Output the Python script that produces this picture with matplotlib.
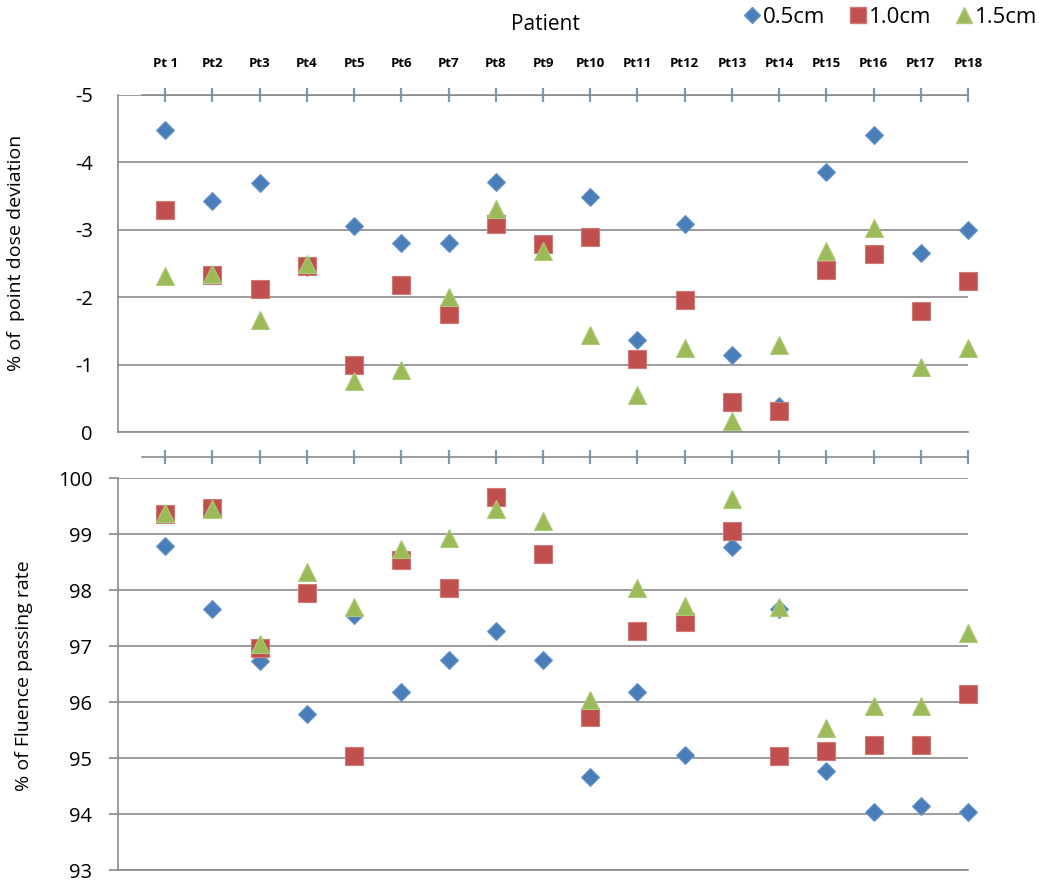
import numpy
import matplotlib
matplotlib.use('Agg')
import matplotlib.pyplot as plt
from matplotlib.lines import Line2D

plt.rcParams['font.family'] = ['Open Sans', 'DejaVu Sans']

patients = ['Pt 1', 'Pt2', 'Pt3', 'Pt4', 'Pt5', 'Pt6', 'Pt7', 'Pt8', 'Pt9',
            'Pt10', 'Pt11', 'Pt12', 'Pt13', 'Pt14', 'Pt15', 'Pt16', 'Pt17', 'Pt18']
series_names = ['0.5cm', '1.0cm', '1.5cm']

# % of point dose deviation
dev_05 = [-4.48, -3.43, -3.69, -2.45, -3.06, -2.80, -2.80, -3.71, -2.70,
          -3.49, -1.37, -3.09, -1.14, -0.38, -3.86, -4.40, -2.66, -3.00]
dev_10 = [-3.29, -2.33, -2.12, -2.47, -1.00, -2.18, -1.75, -3.08, -2.79,
          -2.90, -1.08, -1.96, -0.45, -0.31, -2.41, -2.64, -1.79, -2.24]
dev_15 = [-2.31, -2.34, -1.66, -2.49, -0.75, -0.92, -2.00, -3.31, -2.68,
          -1.44, -0.55, -1.24, -0.17, -1.29, -2.68, -3.02, -0.96, -1.24]

# % of fluence passing rate
pass_05 = [98.78, 97.66, 96.74, 95.78, 97.56, 96.17, 96.75, 97.26, 96.75,
           94.66, 96.17, 95.05, 98.77, 97.66, 94.76, 94.04, 94.15, 94.04]
pass_10 = [99.36, 99.46, 96.97, 97.94, 95.04, 98.54, 98.04, 99.66, 98.64,
           95.74, 97.26, 97.42, 99.06, 95.04, 95.13, 95.23, 95.23, 96.15]
pass_15 = [99.38, 99.45, 97.04, 98.32, 97.70, 98.73, 98.93, 99.44, 99.23,
           96.03, 98.03, 97.71, 99.63, 97.70, 95.54, 95.92, 95.92, 97.24]

dev_ticks = [-5, -4, -3, -2, -1, 0]
pass_ticks = [93, 94, 95, 96, 97, 98, 99, 100]

colors_map = ['#4a7ebb', '#c0504d', '#9bbb59']
edge_map = ['#6b95c8', '#d07a78', '#aec97a']
marker_map = ['D', 's', '^']
size_map = [9.5, 13, 12.5]

GRID_C = '#8a8a8a'
TICK_C = '#7a98b8'


def scatter_series(ax, x, ys):
    for idx in range(len(ys)):
        ax.plot(x, ys[idx], linestyle='none', marker=marker_map[idx],
                markersize=size_map[idx], color=colors_map[idx],
                markeredgecolor=edge_map[idx], markeredgewidth=0.8,
                clip_on=False, zorder=3 + idx)


def style_axes(ax):
    ax.set_xlim(0, 18)
    ax.spines['right'].set_visible(False)
    for s in ['left', 'bottom', 'top']:
        ax.spines[s].set_color(GRID_C)
        ax.spines[s].set_linewidth(1.2)
    ax.spines['top'].set_bounds(0.5, 18)
    ax.grid(axis='y', color=GRID_C, linewidth=1.2)
    ax.set_axisbelow(True)
    ax.xaxis.set_ticks_position('top')
    ax.tick_params(axis='x', which='major', direction='inout', length=10,
                   width=1.6, color=TICK_C)
    ax.tick_params(axis='y', labelsize=14.5, colors=GRID_C, labelcolor='black')
    ax.tick_params(axis='x', labelcolor='black')


fig = plt.figure(figsize=(10.39, 8.84), dpi=100)
x = numpy.arange(1, len(patients) + 1)

# top panel: point dose deviation
ax1 = fig.add_axes([118 / 1039, 1 - 432 / 884, 850 / 1039, 337 / 884])
style_axes(ax1)
scatter_series(ax1, x, [dev_05, dev_10, dev_15])
ax1.set_ylim(0, -5)
ax1.set_yticks(dev_ticks)
ax1.set_yticklabels([str(v) for v in dev_ticks])
ax1.tick_params(axis='y', length=0, pad=18)
ax1.set_xticks(x)
ax1.set_xticklabels(patients, fontsize=9.5, fontweight='bold')
ax1.tick_params(axis='x', pad=13)
ax1.set_ylabel('% of  point dose deviation', fontsize=14)
ax1.yaxis.set_label_coords(-0.109, 0.531)

# bottom panel: fluence passing rate
ax2 = fig.add_axes([118 / 1039, 1 - 870 / 884, 850 / 1039, 392 / 884])
style_axes(ax2)
scatter_series(ax2, x, [pass_05, pass_10, pass_15])
ax2.spines['top'].set_position(('outward', 15))
ax2.set_ylim(93, 100)
ax2.set_yticks(pass_ticks)
ax2.tick_params(axis='y', direction='out', length=6.5, width=1.2, pad=12)
ax2.set_xticks(x)
ax2.set_xticklabels([])
ax2.set_ylabel('% of Fluence passing rate', fontsize=14)
ax2.yaxis.set_label_coords(-0.10, 0.496)

fig.text(545 / 1039, 1 - 25 / 884, 'Patient', fontsize=15,
         ha='center', va='center')

handles = [Line2D([], [], linestyle='none', marker=marker_map[i],
                  markersize=size_map[i] * 0.9, color=colors_map[i],
                  markeredgecolor=edge_map[i])
           for i in range(3)]
fig.legend(handles, series_names, loc='upper right', ncol=3, frameon=False,
           bbox_to_anchor=(1037 / 1039, 1 - 7 / 884), fontsize=16,
           handlelength=0.7, handletextpad=0.15, columnspacing=1.1,
           borderpad=0, borderaxespad=0)

plt.savefig('out.png', dpi=100)
